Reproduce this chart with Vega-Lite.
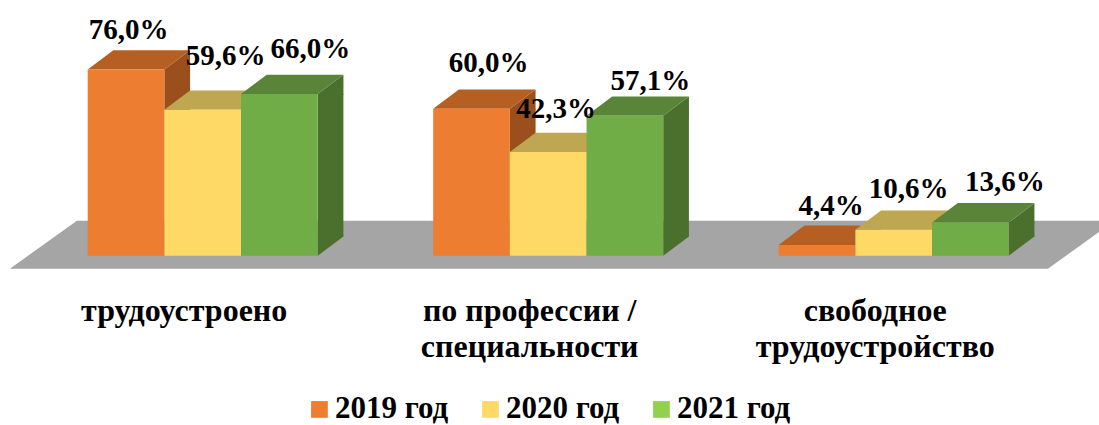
{"$schema":"https://vega.github.io/schema/vega-lite/v6.json","autosize":"none","width":1036.5,"height":245,"padding":{"left":29.95,"top":10.7,"right":32.55,"bottom":169.3},"background":"white","data":{"values":[
{"category":"трудоустроено","year":"2019 год","value":76.0,"label":"76,0%"},
{"category":"трудоустроено","year":"2020 год","value":59.6,"label":"59,6%"},
{"category":"трудоустроено","year":"2021 год","value":66.0,"label":"66,0%"},
{"category":"по профессии /\nспециальности","year":"2019 год","value":60.0,"label":"60,0%"},
{"category":"по профессии /\nспециальности","year":"2020 год","value":42.3,"label":"42,3%"},
{"category":"по профессии /\nспециальности","year":"2021 год","value":57.1,"label":"57,1%"},
{"category":"свободное\nтрудоустройство","year":"2019 год","value":4.4,"label":"4,4%"},
{"category":"свободное\nтрудоустройство","year":"2020 год","value":10.6,"label":"10,6%"},
{"category":"свободное\nтрудоустройство","year":"2021 год","value":13.6,"label":"13,6%"}
]},
"encoding":{
"x":{"field":"category","type":"nominal","sort":null,"title":null,"scale":{"paddingInner":0.3343,"paddingOuter":0.1671,"domain":["трудоустроено","по профессии /\nспециальности","свободное\nтрудоустройство"]},"axis":{"domain":false,"ticks":false,"grid":false,"labelAngle":0,"labelFont":"Liberation Serif","labelFontWeight":"bold","labelFontSize":32,"labelColor":"black","labelPadding":40,"labelOffset":-18.5,"labelLineHeight":35.5,"labelLimit":0,"labelExpr":"split(datum.label,'\\n')"}},
"xOffset":{"field":"year","type":"nominal","sort":null,"scale":{"domain":["2019 год","2020 год","2021 год"]}},
"y":{"field":"value","type":"quantitative","title":null,"scale":{"domain":[0,100],"nice":false},"axis":null}
},
"layer":[
{"transform":[{"filter":"datum.label==='42,3%'"}],"mark":{"type":"point","filled":true,"opacity":1,"fill":"#A5A5A5","size":4,"shape":"M-538.3,13L-471.3,-35L566.7,-35L499.7,13Z","clip":false},"encoding":{"y":{"datum":0}}},
{"mark":{"type":"bar","width":25.7,"y2Offset":-19.3},"encoding":{"xOffset":{"field":"year","type":"nominal","sort":null,"scale":{"domain":["2019 год","2020 год","2021 год"],"range":[51.2,281.2]}},"y2":{"datum":0},"color":{"field":"year","type":"nominal","sort":null,"legend":null,"scale":{"domain":["2019 год","2020 год","2021 год"],"range":["#9A4F1C","#A89044","#4B6F2C"]}}}},
{"mark":{"type":"point","filled":true,"opacity":1,"size":4,"shape":"M38.35,0L64.05,-19.3L64.05,1L38.35,1Z"},"encoding":{"color":{"field":"year","type":"nominal","sort":null,"legend":null,"scale":{"domain":["2019 год","2020 год","2021 год"],"range":["#9A4F1C","#A89044","#4B6F2C"]}}}},
{"mark":{"type":"point","filled":true,"opacity":1,"size":4,"shape":"M38.35,0L64.05,-19.3L64.05,-20.3L38.35,-20.3Z"},"encoding":{"y":{"datum":0},"color":{"field":"year","type":"nominal","sort":null,"legend":null,"scale":{"domain":["2019 год","2020 год","2021 год"],"range":["#9A4F1C","#A89044","#4B6F2C"]}}}},
{"mark":{"type":"point","filled":true,"opacity":1,"size":4,"shape":"M-38.35,0L-12.65,-19.3L64.05,-19.3L38.35,0Z"},"encoding":{"color":{"field":"year","type":"nominal","sort":null,"legend":null,"scale":{"domain":["2019 год","2020 год","2021 год"],"range":["#B55F22","#BFA650","#5A8538"]}}}},
{"mark":{"type":"point","filled":true,"opacity":1,"size":4},"encoding":{"y":{"datum":2},"color":{"field":"year","type":"nominal","sort":null,"scale":{"domain":["2019 год","2020 год","2021 год"],"range":["#ED7D31","#FFD966","#92D050"]},"legend":{"title":null,"orient":"none","legendX":274,"legendY":383,"direction":"horizontal","symbolType":"square","symbolSize":280,"symbolOpacity":1,"labelFont":"Liberation Serif","labelFontWeight":"bold","labelFontSize":31,"labelColor":"black","columnPadding":26,"labelOffset":0}}}},
{"mark":{"type":"bar"},"encoding":{"y2":{"datum":0},"color":{"field":"year","type":"nominal","sort":null,"legend":null,"scale":{"domain":["2019 год","2020 год","2021 год"],"range":["#ED7D31","#FFD966","#70AD47"]}}}},
{"transform":[{"filter":"datum.label==='76,0%'"}],"mark":{"type":"text","font":"Liberation Serif","fontWeight":"bold","fontSize":29,"color":"black","baseline":"alphabetic","dx":2.5,"dy":-30.5},"encoding":{"text":{"field":"label"}}},
{"transform":[{"filter":"datum.label==='59,6%'"}],"mark":{"type":"text","font":"Liberation Serif","fontWeight":"bold","fontSize":29,"color":"black","baseline":"alphabetic","dx":23,"dy":-45},"encoding":{"text":{"field":"label"}}},
{"transform":[{"filter":"datum.label==='66,0%'"}],"mark":{"type":"text","font":"Liberation Serif","fontWeight":"bold","fontSize":29,"color":"black","baseline":"alphabetic","dx":31,"dy":-36},"encoding":{"text":{"field":"label"}}},
{"transform":[{"filter":"datum.label==='60,0%'"}],"mark":{"type":"text","font":"Liberation Serif","fontWeight":"bold","fontSize":29,"color":"black","baseline":"alphabetic","dx":17,"dy":-36.6},"encoding":{"text":{"field":"label"}}},
{"transform":[{"filter":"datum.label==='42,3%'"}],"mark":{"type":"text","font":"Liberation Serif","fontWeight":"bold","fontSize":29,"color":"black","baseline":"alphabetic","dx":8,"dy":-34},"encoding":{"text":{"field":"label"}}},
{"transform":[{"filter":"datum.label==='57,1%'"}],"mark":{"type":"text","font":"Liberation Serif","fontWeight":"bold","fontSize":29,"color":"black","baseline":"alphabetic","dx":25.5,"dy":-26},"encoding":{"text":{"field":"label"}}},
{"transform":[{"filter":"datum.label==='4,4%'"}],"mark":{"type":"text","font":"Liberation Serif","fontWeight":"bold","fontSize":29,"color":"black","baseline":"alphabetic","dx":14,"dy":-30},"encoding":{"text":{"field":"label"}}},
{"transform":[{"filter":"datum.label==='10,6%'"}],"mark":{"type":"text","font":"Liberation Serif","fontWeight":"bold","fontSize":29,"color":"black","baseline":"alphabetic","dx":15,"dy":-32},"encoding":{"text":{"field":"label"}}},
{"transform":[{"filter":"datum.label==='13,6%'"}],"mark":{"type":"text","font":"Liberation Serif","fontWeight":"bold","fontSize":29,"color":"black","baseline":"alphabetic","dx":34.5,"dy":-31},"encoding":{"text":{"field":"label"}}}
],
"resolve":{"scale":{"color":"independent","xOffset":"independent"}},
"config":{"view":{"stroke":null}}
}
